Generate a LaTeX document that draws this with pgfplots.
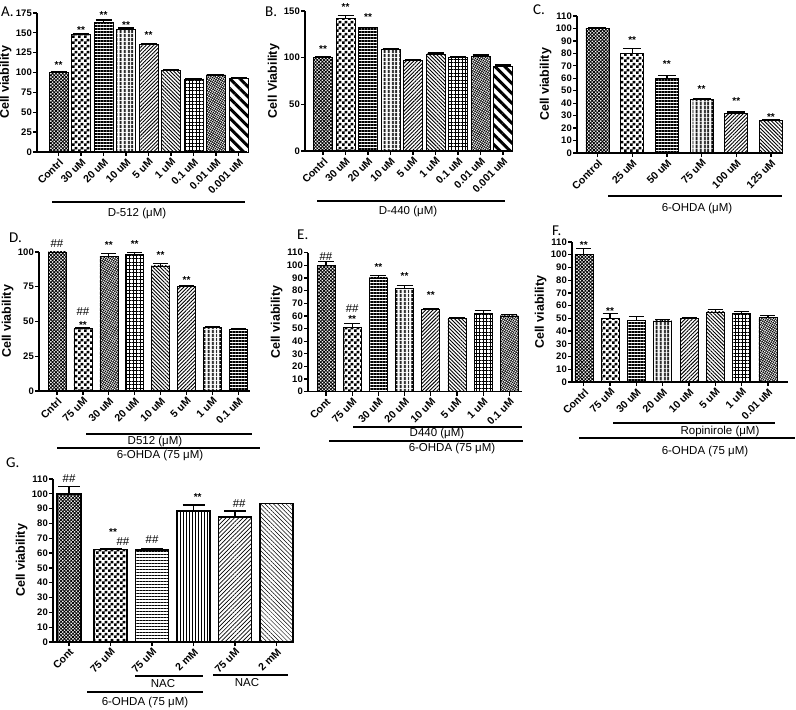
\documentclass[border=0pt]{standalone}
\usepackage{pgfplots}
\pgfplotsset{compat=1.18}
\usetikzlibrary{patterns,patterns.meta}
\usepackage{fontspec}
\setmainfont{Liberation Sans}
\newfontfamily\calib{Carlito}

\pgfdeclarepatternformonly{check3}{\pgfqpoint{0pt}{0pt}}{\pgfqpoint{6pt}{6pt}}{\pgfqpoint{6pt}{6pt}}{%
  \pgfpathrectangle{\pgfqpoint{0pt}{0pt}}{\pgfqpoint{3pt}{3pt}}%
  \pgfpathrectangle{\pgfqpoint{3pt}{3pt}}{\pgfqpoint{3pt}{3pt}}%
  \pgfusepath{fill}}

\tikzset{
 pd/.style={pattern={Hatch[angle=45,distance=2.4pt,line width=0.8pt]}},
 pc/.style={pattern=check3},
 ph/.style={pattern={Lines[angle=0,distance=3pt,line width=1.3pt]}},
 pv/.style={pattern={Lines[angle=90,distance=4pt,line width=2.2pt]}},
 pne/.style={pattern={Lines[angle=45,distance=2.6pt,line width=0.9pt]}},
 pnw/.style={pattern={Lines[angle=-45,distance=2.6pt,line width=0.9pt]}},
 pg/.style={pattern={Hatch[angle=0,distance=3.5pt,line width=0.8pt]}},
 pf/.style={pattern={Hatch[angle=60,distance=2pt,line width=0.5pt]}},
 pw/.style={pattern={Lines[angle=-45,distance=7pt,line width=3pt]}},
 ph2/.style={pattern={Lines[angle=0,distance=3pt,line width=0.5pt]}},
 pv2/.style={pattern={Lines[angle=90,distance=3pt,line width=0.5pt]}},
 pne2/.style={pattern={Lines[angle=45,distance=3pt,line width=0.7pt]}},
 pnw2/.style={pattern={Lines[angle=-45,distance=3pt,line width=0.5pt]}},
 st/.style={font=\bfseries\fontsize{10}{10}\selectfont, inner sep=0pt, yshift=-2pt},
 hs/.style={font=\fontsize{11.5}{11.5}\selectfont, inner sep=0pt},
 gl/.style={font=\fontsize{11.5}{12}\selectfont, inner sep=0pt},
 pl/.style={font=\calib\fontsize{15}{15}\selectfont, anchor=base west, inner sep=0pt},
}

\pgfplotsset{
 gp/.style={
  anchor=south west,
  axis lines=left,
  axis line style={line width=1.5pt,-},
  clip=false,
  tick align=outside,
  major tick length=4pt,
  tick style={black,line width=1.3pt},
  ymin=0,
  scaled y ticks=false,
  /pgf/number format/assume math mode=true,
  yticklabel style={font=\bfseries\fontsize{9.5}{10}\selectfont, inner sep=1pt},
  xticklabel style={font=\bfseries\fontsize{10.5}{11}\selectfont, rotate=45, anchor=north east, inner sep=1pt},
  ylabel style={font=\bfseries\fontsize{12.5}{13}\selectfont},
  ylabel={Cell viability},
 }
}

\newcommand{\B}[4]{\addplot[ybar, bar shift=0pt, draw=black, line width=0.6pt, #4, error bars/.cd, y dir=plus, y explicit, error bar style={line width=1.3pt, black, solid}] coordinates {(#1,#2) +- (0,#3)};}
\newcommand{\N}[3]{\addplot[ybar, bar shift=0pt, draw=black, line width=0.6pt, #3] coordinates {(#1,#2)};}

\begin{document}
\begin{tikzpicture}
\useasboundingbox (0pt,0pt) rectangle (796pt,710pt);

% ---------- A ----------
\begin{axis}[gp, at={(37pt,558pt)}, x=22.5pt, y=0.7943pt, xmin=-0.956, xmax=8.38, ymax=175,
  ytick={0,25,...,175}, xtick={0,...,8},
  xticklabels={Contrl,30 uM,20 uM,10 uM,5 uM,1 uM,0.1 uM,0.01 uM,0.001 uM},
  bar width=19pt, error bars/error mark options={black,line width=1.3pt,mark size=8pt,rotate=90}]
\B{0}{100}{1}{pd}
\B{1}{148}{1}{pc}
\B{2}{163}{3}{ph}
\B{3}{154}{2}{pv}
\B{4}{135}{1}{pne}
\B{5}{103}{0.5}{pnw}
\B{6}{92}{0.5}{pg}
\B{7}{97}{1}{pf}
\B{8}{93}{0.5}{pw}
\node[st] at (axis cs:0,111.7) {**};
\node[st] at (axis cs:1,155.8) {**};
\node[st] at (axis cs:2,174.7) {**};
\node[st] at (axis cs:3,162) {**};
\node[st] at (axis cs:4,149.5) {**};
\end{axis}

% ---------- B ----------
\begin{axis}[gp, at={(305pt,559pt)}, x=22.5pt, y=0.9333pt, xmin=-0.8, xmax=8.4, ymax=150,
  ytick={0,50,100,150}, xtick={0,...,8}, ylabel={Cell Viability},
  xticklabels={Contrl,30 uM,20 uM,10 uM,5 uM,1 uM,0.1 uM,0.01 uM,0.001 uM},
  bar width=19pt, error bars/error mark options={black,line width=1.3pt,mark size=8pt,rotate=90}]
\B{0}{100}{1}{pd}
\B{1}{142}{3}{pc}
\B{2}{132}{0.5}{ph}
\B{3}{109}{1}{pv}
\B{4}{97}{0.5}{pne}
\B{5}{104}{1}{pnw}
\B{6}{100}{1}{pg}
\B{7}{101}{2}{pf}
\B{8}{91}{1}{pw}
\node[st] at (axis cs:0,111.8) {**};
\node[st] at (axis cs:1,156.4) {**};
\node[st] at (axis cs:2,145.7) {**};
\end{axis}

% ---------- C ----------
\begin{axis}[gp, at={(577pt,557pt)}, x=34.7pt, y=1.2455pt, xmin=-0.59, xmax=5.32, ymax=110,
  ytick={0,10,...,110}, xtick={0,...,5},
  xticklabels={Control,25 uM,50 uM,75 uM,100 uM,125 uM},
  bar width=23pt, error bars/error mark options={black,line width=1.3pt,mark size=9pt,rotate=90}]
\B{0}{100}{1}{pd}
\B{1}{80}{4}{pc}
\B{2}{60}{2}{ph}
\B{3}{43}{1}{pv}
\B{4}{32}{1}{pne}
\B{5}{26}{1}{pnw}
\node[st] at (axis cs:1,92) {**};
\node[st] at (axis cs:2,73.3) {**};
\node[st] at (axis cs:3,52.7) {**};
\node[st] at (axis cs:4,43.4) {**};
\node[st] at (axis cs:5,30.5) {**};
\end{axis}

% ---------- D ----------
\begin{axis}[gp, at={(39pt,319pt)}, x=25.9pt, y=1.39pt, xmin=-0.695, xmax=7.45, ymax=100,
  ytick={0,25,50,75,100}, xtick={0,...,7},
  xticklabels={Cntrl,75 uM,30 uM,20 uM,10 uM,5 uM,1 uM,0.1 uM},
  bar width=18pt, error bars/error mark options={black,line width=1.3pt,mark size=7.5pt,rotate=90}]
\N{0}{100}{pd}
\B{1}{45}{0.5}{pc}
\B{2}{97}{2}{pf}
\B{3}{98}{1.5}{pg}
\B{4}{90}{1.5}{pnw}
\B{5}{75}{0.5}{pne}
\B{6}{45.5}{0.5}{pv}
\B{7}{44.5}{0.5}{ph}
\node[hs] at (axis cs:0,106.2) {\#\#};
\node[hs] at (axis cs:1,57) {\#\#};
\node[st] at (axis cs:1,49.2) {**};
\node[st] at (axis cs:2,106.2) {**};
\node[st] at (axis cs:3,107.4) {**};
\node[st] at (axis cs:4,99) {**};
\node[st] at (axis cs:5,81) {**};
\end{axis}

% ---------- E ----------
\begin{axis}[gp, at={(308pt,318.3pt)}, x=26.2pt, y=1.2636pt, xmin=-0.687, xmax=7.47, ymax=110,
  ytick={0,10,...,110}, xtick={0,...,7},
  xticklabels={Cont,75 uM,30 uM,20 uM,10 uM,5 uM,1 uM,0.1 uM},
  bar width=18pt, error bars/error mark options={black,line width=1.3pt,mark size=8pt,rotate=90}]
\B{0}{100}{3}{pd}
\B{1}{51}{3}{pc}
\B{2}{90}{2}{ph}
\B{3}{82}{2}{pv}
\B{4}{65}{1}{pne}
\B{5}{58}{0.3}{pnw}
\B{6}{62}{2}{pg}
\B{7}{60}{1}{pf}
\node[hs] at (axis cs:0,106.8) {\#\#};
\node[hs] at (axis cs:1,66) {\#\#};
\node[st] at (axis cs:1,58.9) {**};
\node[st] at (axis cs:2,100.3) {**};
\node[st] at (axis cs:3,93.1) {**};
\node[st] at (axis cs:4,77.9) {**};
\end{axis}

% ---------- F ----------
\begin{axis}[gp, at={(572pt,328pt)}, x=26.3pt, y=1.2727pt, xmin=-0.45, xmax=7.76, ymax=110,
  ytick={0,10,...,110}, xtick={0,...,7},
  xticklabels={Contrl,75 uM,30 uM,20 uM,10 uM,5 uM,1 uM,0.01 uM},
  bar width=18pt, error bars/error mark options={black,line width=1.3pt,mark size=7.5pt,rotate=90}]
\B{0}{100}{5}{pd}
\B{1}{50}{4}{pc}
\B{2}{48.5}{3}{ph}
\B{3}{48}{1}{pv}
\B{4}{50}{0.3}{pne}
\B{5}{55}{2}{pnw}
\B{6}{54}{1.5}{pg}
\B{7}{50.5}{1.5}{pf}
\node[st] at (axis cs:0,109) {**};
\node[st] at (axis cs:1,57.1) {**};
\end{axis}

% ---------- G ----------
\begin{axis}[gp, at={(53pt,68pt)}, x=41.5pt, y=1.4818pt, xmin=-0.386, xmax=5.37, ymax=110,
  ytick={0,10,...,110}, xtick={0,...,5},
  xticklabels={Cont,75 uM,75 uM,2 mM,75 uM,2 mM},
  bar width=33pt, error bars/error mark options={black,line width=1.3pt,mark size=11pt,rotate=90}]
\B{0}{100}{5}{pd, line width=1.5pt, bar width=24pt}
\B{1}{62.5}{0.5}{pc, line width=1.5pt}
\B{2}{62}{1}{ph2, line width=1.5pt}
\B{3}{88.5}{4}{pv2, line width=1.5pt}
\B{4}{84.5}{4}{pne2, line width=1.5pt}
\N{5}{93.5}{pnw2, line width=1.5pt}
\node[hs] at (axis cs:0,110.5) {\#\#};
\node[st] at (axis cs:1.06,75.6) {**};
\node[hs] at (axis cs:1.3,67.7) {\#\#};
\node[hs] at (axis cs:2,68.8) {\#\#};
\node[st] at (axis cs:3.1,99.2) {**};
\node[hs] at (axis cs:4.1,93.6) {\#\#};
\end{axis}

% ---------- group lines and labels ----------
\draw[line width=1.8pt] (52pt,508pt) -- (245pt,508pt);
\node[gl] at (137pt,496.5pt) {D-512 (μM)};
\draw[line width=1.8pt] (317pt,509pt) -- (505pt,509pt);
\node[gl] at (408pt,498pt) {D-440 (μM)};
\draw[line width=1.8pt] (608pt,514pt) -- (782pt,514pt);
\node[gl] at (697pt,501.5pt) {6-OHDA (μM)};

\draw[line width=1.8pt] (86pt,276pt) -- (252pt,276pt);
\node[gl] at (155pt,268pt) {D512 (μM)};
\draw[line width=1.8pt] (57pt,262pt) -- (260pt,262pt);
\node[gl] at (160pt,254pt) {6-OHDA (75 μM)};

\draw[line width=1.8pt] (353pt,283pt) -- (522pt,283pt);
\node[gl] at (437pt,276pt) {D440 (μM)};
\draw[line width=1.8pt] (329pt,269pt) -- (523pt,269pt);
\node[gl] at (452pt,261pt) {6-OHDA (75 μM)};

\draw[line width=1.8pt] (613pt,287pt) -- (775pt,287pt);
\node[gl] at (720pt,278pt) {Ropinirole (μM)};
\draw[line width=1.8pt] (579pt,272pt) -- (795pt,272pt);
\node[gl] at (705pt,258pt) {6-OHDA (75 μM)};

\draw[line width=1.8pt] (135pt,34pt) -- (203pt,34pt);
\node[gl] at (163pt,26pt) {NAC};
\draw[line width=1.8pt] (213pt,35pt) -- (288pt,35pt);
\node[gl] at (247pt,27pt) {NAC};
\draw[line width=1.8pt] (87pt,18pt) -- (203pt,18pt);
\node[gl] at (145pt,7pt) {6-OHDA (75 μM)};

% ---------- panel letters ----------
\node[pl] at (1pt,693pt) {A.};
\node[pl] at (265pt,693pt) {B.};
\node[pl] at (533pt,695pt) {C.};
\node[pl] at (9pt,467pt) {D.};
\node[pl] at (297pt,470pt) {E.};
\node[pl] at (552pt,474pt) {F.};
\node[pl] at (6pt,242pt) {G.};
\end{tikzpicture}
\end{document}
